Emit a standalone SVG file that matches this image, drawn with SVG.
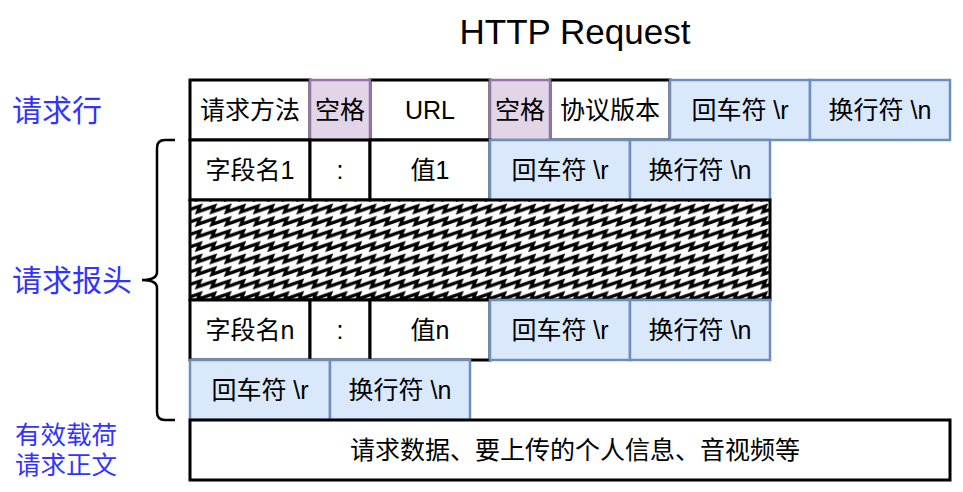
<svg xmlns="http://www.w3.org/2000/svg" width="963" height="492" viewBox="0 0 963 492">
<style>
  text { font-family: "Liberation Sans", "Noto Sans CJK SC", sans-serif; }
  .t { font-size: 25px; fill: #000; text-anchor: middle; dominant-baseline: central; }
  .lbl { font-size: 30px; fill: #3333ff; dominant-baseline: central; }
  .lbl2 { font-size: 25.5px; fill: #3333ff; dominant-baseline: central; }
  .k { fill: #ffffff; stroke: #000; stroke-width: 3; }
  .p { fill: #e1d5e7; stroke: #9673a6; stroke-width: 2.5; }
  .b { fill: #dae8fc; stroke: #6c8ebf; stroke-width: 2.5; }
  .zl { fill: none; stroke: #000; stroke-width: 3.2; stroke-linejoin: miter; }
</style>
<defs>
  <pattern id="zz" patternUnits="userSpaceOnUse" x="190" y="200" width="14.5" height="12.5">
    <rect width="14.5" height="12.5" fill="#fff"/>
    <path class="zl" d="M-7,11.95 L0,9.5 L10,6 L7.5,11.95 L14.5,9.5 L24.5,6"/>
    <path class="zl" d="M-7,-0.55 L0,-3 L10,-6.5 L7.5,-0.55 L14.5,-3 L24.5,-6.5"/>
    <path class="zl" d="M-7,24.45 L0,22 L10,18.5 L7.5,24.45 L14.5,22 L24.5,18.5"/>
  </pattern>
</defs>
<rect width="963" height="492" fill="#ffffff"/>

<g id="title"><text x="575" y="31" class="t" style="font-size:35px">HTTP Request</text></g>

<g id="labels">
  <text x="12" y="110" class="lbl">请求行</text>
  <text x="12" y="280" class="lbl">请求报头</text>
  <text x="15" y="435" class="lbl2">有效载荷</text>
  <text x="15" y="465" class="lbl2">请求正文</text>
</g>

<g id="connectors">
  <path d="M175,140 L165,140 Q157,140 157,148 L157,272 Q157,280 142,280 Q157,280 157,288 L157,412 Q157,420 165,420 L175,420" fill="none" stroke="#000" stroke-width="2.5"/>
</g>

<g id="row1">
  <g id="r1-method"><rect class="k" x="190" y="80" width="120" height="60"/><text class="t" x="250" y="110">请求方法</text></g>
  <g id="r1-url"><rect class="k" x="370" y="80" width="120" height="60"/><text class="t" x="430" y="110">URL</text></g>
  <g id="r1-ver"><rect class="k" x="550" y="80" width="120" height="60"/><text class="t" x="610" y="110">协议版本</text></g>
  <g id="r1-sp1"><rect class="p" x="310" y="80" width="60" height="60"/><text class="t" x="340" y="110">空格</text></g>
  <g id="r1-sp2"><rect class="p" x="490" y="80" width="60" height="60"/><text class="t" x="520" y="110">空格</text></g>
  <g id="r1-cr"><rect class="b" x="670" y="80" width="140" height="60"/><text class="t" x="740" y="110">回车符 \r</text></g>
  <g id="r1-lf"><rect class="b" x="810" y="80" width="140" height="60"/><text class="t" x="880" y="110">换行符 \n</text></g>
</g>

<g id="row2">
  <g id="r2-name"><rect class="k" x="190" y="140" width="120" height="60"/><text class="t" x="250" y="170">字段名1</text></g>
  <g id="r2-colon"><rect class="k" x="310" y="140" width="60" height="60"/><text class="t" x="340" y="170">:</text></g>
  <g id="r2-val"><rect class="k" x="370" y="140" width="120" height="60"/><text class="t" x="430" y="170">值1</text></g>
  <g id="r2-cr"><rect class="b" x="490" y="140" width="140" height="60"/><text class="t" x="560" y="170">回车符 \r</text></g>
  <g id="r2-lf"><rect class="b" x="630" y="140" width="140" height="60"/><text class="t" x="700" y="170">换行符 \n</text></g>
</g>

<g id="hatch"><rect x="190" y="200" width="580" height="100" fill="url(#zz)" stroke="#000" stroke-width="3"/></g>

<g id="rown">
  <g id="rn-name"><rect class="k" x="190" y="300" width="120" height="60"/><text class="t" x="250" y="330">字段名n</text></g>
  <g id="rn-colon"><rect class="k" x="310" y="300" width="60" height="60"/><text class="t" x="340" y="330">:</text></g>
  <g id="rn-val"><rect class="k" x="370" y="300" width="120" height="60"/><text class="t" x="430" y="330">值n</text></g>
  <g id="rn-cr"><rect class="b" x="490" y="300" width="140" height="60"/><text class="t" x="560" y="330">回车符 \r</text></g>
  <g id="rn-lf"><rect class="b" x="630" y="300" width="140" height="60"/><text class="t" x="700" y="330">换行符 \n</text></g>
</g>

<g id="rowend">
  <g id="re-cr"><rect class="b" x="190" y="360" width="140" height="60"/><text class="t" x="260" y="390">回车符 \r</text></g>
  <g id="re-lf"><rect class="b" x="330" y="360" width="140" height="60"/><text class="t" x="400" y="390">换行符 \n</text></g>
</g>

<g id="body"><rect class="k" x="190" y="420" width="760" height="60"/><text class="t" x="575" y="450">请求数据、要上传的个人信息、音视频等</text></g>
</svg>
